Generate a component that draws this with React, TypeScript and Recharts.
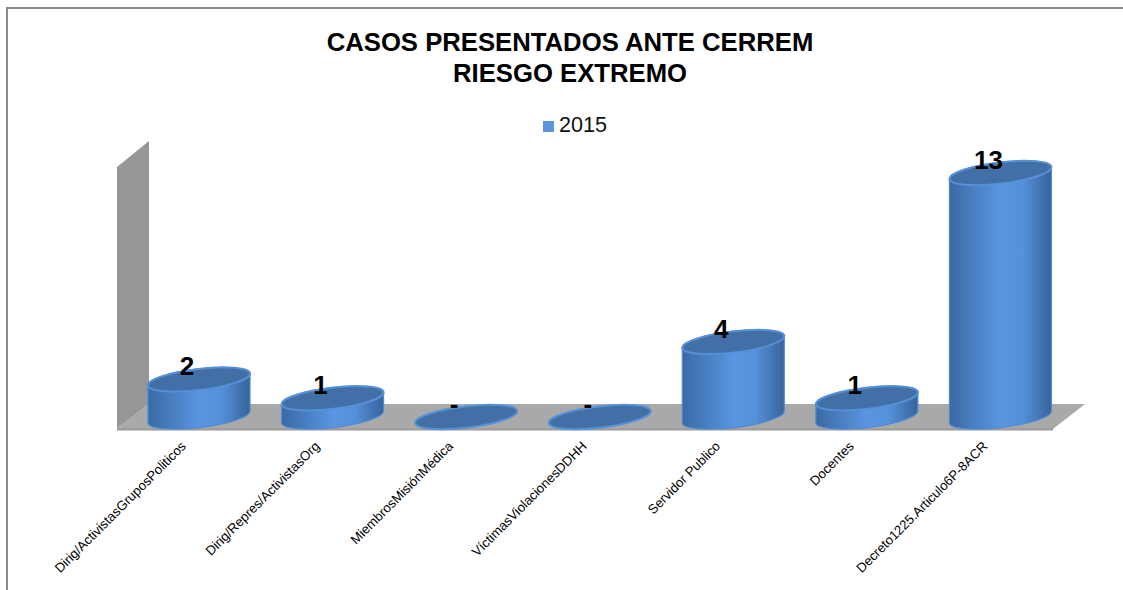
import React from 'react';
import { ComposedChart, Bar, XAxis, YAxis, Legend, LabelList } from 'recharts';

const categories = [
  'Dirig/ActivistasGruposPoliticos',
  'Dirig/Repres/ActivistasOrg',
  'MiembrosMisiónMédica',
  'VíctimasViolacionesDDHH',
  'Servidor Publico',
  'Docentes',
  'Decreto1225.Articulo6P-8ACR',
];
const values2015 = [2, 1, 0, 0, 4, 1, 13];
const titleLines = ['CASOS PRESENTADOS ANTE CERREM', 'RIESGO EXTREMO'];
const data = categories.map((name, i) => ({ name, v2015: values2015[i] }));

const FONT = '"Liberation Sans", Arial, sans-serif';
const RX = 51;
const RY = 10.5;
const ROT = -6.8;
const DY = 6;

function Cylinder(props: any) {
  const { x, y, width, height } = props;
  const l = x;
  const r = x + width;
  const base = y + height;
  const arc = `A${RX} ${RY} ${ROT} 0 0`;
  const side = `M${l} ${y + DY} L${l} ${base + DY} ${arc} ${r} ${base - DY} L${r} ${y - DY} ${arc} ${l} ${y + DY} Z`;
  const top = `M${l} ${y + DY} ${arc} ${r} ${y - DY} ${arc} ${l} ${y + DY} Z`;
  return (
    <g>
      <path d={side} fill="url(#cyl)" stroke="#4F8AD4" strokeWidth={1.2} />
      <path d={top} fill="#426FA5" stroke="#5590D8" strokeWidth={2} />
    </g>
  );
}

function Tick(props: any) {
  const { x, y, payload } = props;
  const tx = x - 12;
  const ty = y + 24;
  return (
    <text x={tx} y={ty} transform={`rotate(-45 ${tx} ${ty})`} textAnchor="end" fontFamily={FONT} fontSize={13.2} fill="#000">
      {payload.value}
    </text>
  );
}

function ValueLabel(props: any) {
  const { x, y, width, value } = props;
  return (
    <text x={x + width / 2 - 12} y={y - 4} textAnchor="middle" fontFamily={FONT} fontWeight={700} fontSize={26} fill="#000">
      {value === 0 ? '-' : value}
    </text>
  );
}

export default function App() {
  return (
    <div style={{ position: 'absolute', left: 0, top: 0, width: 1123, height: 590, background: '#fff' }}>
      <div style={{ position: 'absolute', left: 6, top: 7, width: 1117, height: 583, borderLeft: '2px solid #8a8a8a', borderTop: '2px solid #8a8a8a', boxSizing: 'border-box' }} />
      <ComposedChart
        width={1123}
        height={590}
        data={data}
        margin={{ top: 147, right: 56, bottom: 0, left: 132 }}
        style={{ position: 'absolute', left: 0, top: 0 }}
      >
        <defs>
          <linearGradient id="cyl" x1="0" y1="0" x2="1" y2="0">
            <stop offset="0" stopColor="#3A6AA3" />
            <stop offset="0.5" stopColor="#5995E2" />
            <stop offset="0.72" stopColor="#5590DA" />
            <stop offset="1" stopColor="#37639A" />
          </linearGradient>
        </defs>
        <polygon points="117,167 149,141 149,404 117,429" fill="#979797" />
        <polygon points="117,429 149,404 1085,404 1053,429" fill="#A9A9A9" />
        <line x1={117} y1={429.5} x2={1053} y2={429.5} stroke="#9a9a9a" strokeWidth={2} />
        {titleLines.map((t, i) => (
          <text key={t} x={570} y={51 + i * 31} textAnchor="middle" fontFamily={FONT} fontWeight={700} fontSize={25.7} fill="#000">
            {t}
          </text>
        ))}
        <Legend
          verticalAlign="top"
          align="left"
          iconType="square"
          iconSize={11}
          wrapperStyle={{ position: 'absolute', left: 543, top: 112, width: 90, fontFamily: FONT, fontSize: 21.6 }}
          formatter={(v: string) => <span style={{ color: '#111', marginLeft: 1 }}>{v}</span>}
        />
        <XAxis dataKey="name" height={173} interval={0} axisLine={false} tickLine={false} tick={<Tick />} tickMargin={0} />
        <YAxis hide domain={[0, 13]} />
        <Bar dataKey="v2015" name="2015" fill="#5B94DE" barSize={102} shape={<Cylinder />} isAnimationActive={false}>
          <LabelList dataKey="v2015" content={<ValueLabel />} />
        </Bar>
      </ComposedChart>
    </div>
  );
}
